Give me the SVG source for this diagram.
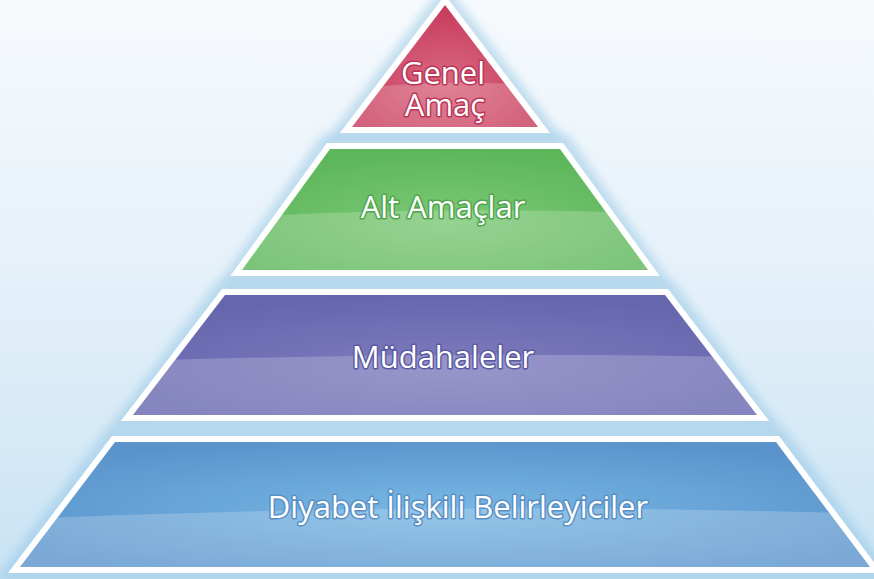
<svg xmlns="http://www.w3.org/2000/svg" width="874" height="579" viewBox="0 0 874 579">
<style>
.tier{stroke:#ffffff;stroke-width:12;stroke-linejoin:miter;paint-order:stroke}
.halo{fill:none;stroke:#8fc4e4;stroke-width:16;stroke-opacity:0.5;filter:url(#blur)}
.lbl{font-family:"Open Sans","Noto Sans","Liberation Sans",sans-serif;font-size:31px;fill:#ffffff;text-anchor:middle;paint-order:stroke;stroke-width:3;stroke-linejoin:round}
.gloss{fill:#ffffff;fill-opacity:0.2}
</style>
<defs>
<linearGradient id="bg" x1="0" y1="0" x2="0" y2="1">
<stop offset="0" stop-color="#f7fafd"/>
<stop offset="0.5" stop-color="#e4f0f9"/>
<stop offset="1" stop-color="#c8e3f4"/>
</linearGradient>
<filter id="blur" x="-10%" y="-20%" width="120%" height="140%"><feGaussianBlur stdDeviation="5"/></filter>
<radialGradient id="gRed" cx="0.5" cy="0.6" r="0.6">
<stop offset="0" stop-color="#d8667e"/>
<stop offset="1" stop-color="#c73a5b"/>
</radialGradient>
<radialGradient id="gGreen" cx="0.5" cy="0.6" r="0.6">
<stop offset="0" stop-color="#7cc875"/>
<stop offset="1" stop-color="#5cb65a"/>
</radialGradient>
<radialGradient id="gPurple" cx="0.5" cy="0.6" r="0.6">
<stop offset="0" stop-color="#7f7bbd"/>
<stop offset="1" stop-color="#6666ae"/>
</radialGradient>
<radialGradient id="gBlue" cx="0.5" cy="0.55" r="0.6">
<stop offset="0" stop-color="#78b8e5"/>
<stop offset="1" stop-color="#5a93cb"/>
</radialGradient>
<clipPath id="cRed"><polygon points="445,5 538,127 352,127"/></clipPath>
<clipPath id="cGreen"><polygon points="330,149 560,149 648,270 242,270"/></clipPath>
<clipPath id="cPurple"><polygon points="225,295 665,295 757,415 133,415"/></clipPath>
<clipPath id="cBlue"><polygon points="115,442 776,442 870,567 20,567"/></clipPath>
</defs>
<rect width="874" height="579" fill="url(#bg)"/>

<g id="halos">
<polygon class="halo" points="445,-4 548,132 342,132"/>
<polygon class="halo" points="326,143 564,143 656,276 234,276"/>
<polygon class="halo" points="221,289 669,289 766,421 124,421"/>
<polygon class="halo" points="111,436 780,436 880,573 10,573"/>
</g>

<g id="tier-blue">
<polygon class="tier" points="115,442 776,442 870,567 20,567" fill="url(#gBlue)"/>
<path class="gloss" clip-path="url(#cBlue)" d="M0,520 Q445,500 874,514 L874,579 L0,579 Z"/>
<text class="lbl" x="458" y="518" stroke="#5a8fc4" font-size="32">Diyabet İlişkili Belirleyiciler</text>
</g>

<g id="tier-purple">
<polygon class="tier" points="225,295 665,295 757,415 133,415" fill="url(#gPurple)"/>
<path class="gloss" clip-path="url(#cPurple)" d="M100,362 Q445,350 790,358 L790,430 L100,430 Z"/>
<text class="lbl" x="443" y="368" stroke="#5a5aa2">Müdahaleler</text>
</g>

<g id="tier-green">
<polygon class="tier" points="330,149 560,149 648,270 242,270" fill="url(#gGreen)"/>
<path class="gloss" clip-path="url(#cGreen)" d="M220,218 Q445,205 670,214 L670,280 L220,280 Z"/>
<text class="lbl" x="443" y="218" stroke="#4fa44d" font-size="32">Alt Amaçlar</text>
</g>

<g id="tier-red">
<polygon class="tier" points="445,5 538,127 352,127" fill="url(#gRed)"/>
<path class="gloss" clip-path="url(#cRed)" d="M340,90 Q445,78 550,86 L550,140 L340,140 Z"/>
<text class="lbl" stroke="#b93456" font-size="31"><tspan x="443" y="84">Genel</tspan><tspan x="445" y="116">Amaç</tspan></text>
</g>
</svg>
